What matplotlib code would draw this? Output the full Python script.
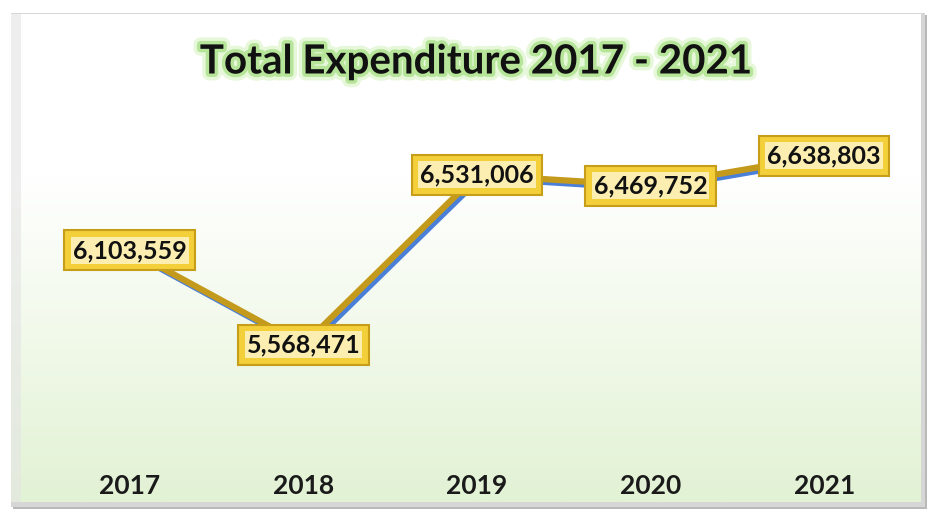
import numpy as np
import matplotlib.pyplot as plt
import matplotlib.patheffects as pe
from matplotlib.patches import Rectangle

years = ['2017', '2018', '2019', '2020', '2021']
expenditure = [6103559, 5568471, 6531006, 6469752, 6638803]

W, H = 932, 511
fig = plt.figure(figsize=(W / 100, H / 100), dpi=100)
fig.patch.set_facecolor('white')

# frame with drop shadow and white -> pale green gradient (pixel coords)
bg = fig.add_axes([0, 0, 1, 1])
bg.set_xlim(0, W)
bg.set_ylim(H, 0)
bg.axis('off')
bg.add_patch(Rectangle((13, 15), 914, 494, facecolor='#b9b9b9', edgecolor='none'))
bg.add_patch(Rectangle((11, 13), 914, 494, facecolor='#d6d6d6', edgecolor='none'))
grad = np.linspace(0, 1, 256).reshape(-1, 1)
cmap = plt.matplotlib.colors.LinearSegmentedColormap.from_list(
    'bgfade', ['#ffffff', '#ffffff', '#f1f9ea', '#e2f2d4'])
bg.imshow(grad, extent=(11, 921, 502, 14), cmap=cmap, aspect='auto', zorder=2)
bg.add_patch(Rectangle((11, 14), 10, 488, facecolor='#e4e4e4', edgecolor='none', alpha=0.6, zorder=3))

bg.text(476, 62, 'Total Expenditure 2017 - 2021', ha='center', va='center',
        fontsize=29, fontweight='bold', family='Lato', color='#111111', zorder=5,
        path_effects=[pe.Stroke(linewidth=10, foreground='#e6f7da'),
                      pe.Stroke(linewidth=5, foreground='#b6e59a'),
                      pe.Normal()])

ax = fig.add_axes([43 / W, 51 / H, 868 / W, 340 / H])
ax.patch.set_alpha(0)
x = np.arange(len(years))
ax.set_xlim(-0.5, len(years) - 0.5)
ax.set_ylim(4.917e6, 6.842e6)

# blue shadow line under the gold line
ax.plot(x, expenditure, color='#4a7fd8', linewidth=4.5, solid_capstyle='butt',
        transform=ax.transData + plt.matplotlib.transforms.ScaledTranslation(3 / 100, -3 / 100, fig.dpi_scale_trans),
        zorder=2)
ax.plot(x, expenditure, color='#c49a1c', linewidth=4.5, zorder=3)

for xi, v in zip(x, expenditure):
    lbl = f'{v:,}'
    ax.text(xi, v, lbl, ha='center', va='center', fontsize=18, fontweight='bold',
            family='Lato', color='none', zorder=4,
            bbox=dict(boxstyle='square,pad=0.34', facecolor='#f3cf3a', edgecolor='#c79e1a', linewidth=1.5))
    ax.text(xi, v, lbl, ha='center', va='center', fontsize=18, fontweight='bold',
            family='Lato', color='#111111', zorder=5,
            bbox=dict(boxstyle='square,pad=0.08', facecolor='#fbeeb0', edgecolor='none'))

ax.set_xticks(x, years)
ax.tick_params(axis='x', length=0, pad=10, labelsize=19, labelcolor='#1a1a1a')
for t in ax.get_xticklabels():
    t.set_fontweight('bold')
    t.set_family('Lato')
ax.set_yticks([])
for s in ax.spines.values():
    s.set_visible(False)

fig.savefig('out.png', dpi=100)
